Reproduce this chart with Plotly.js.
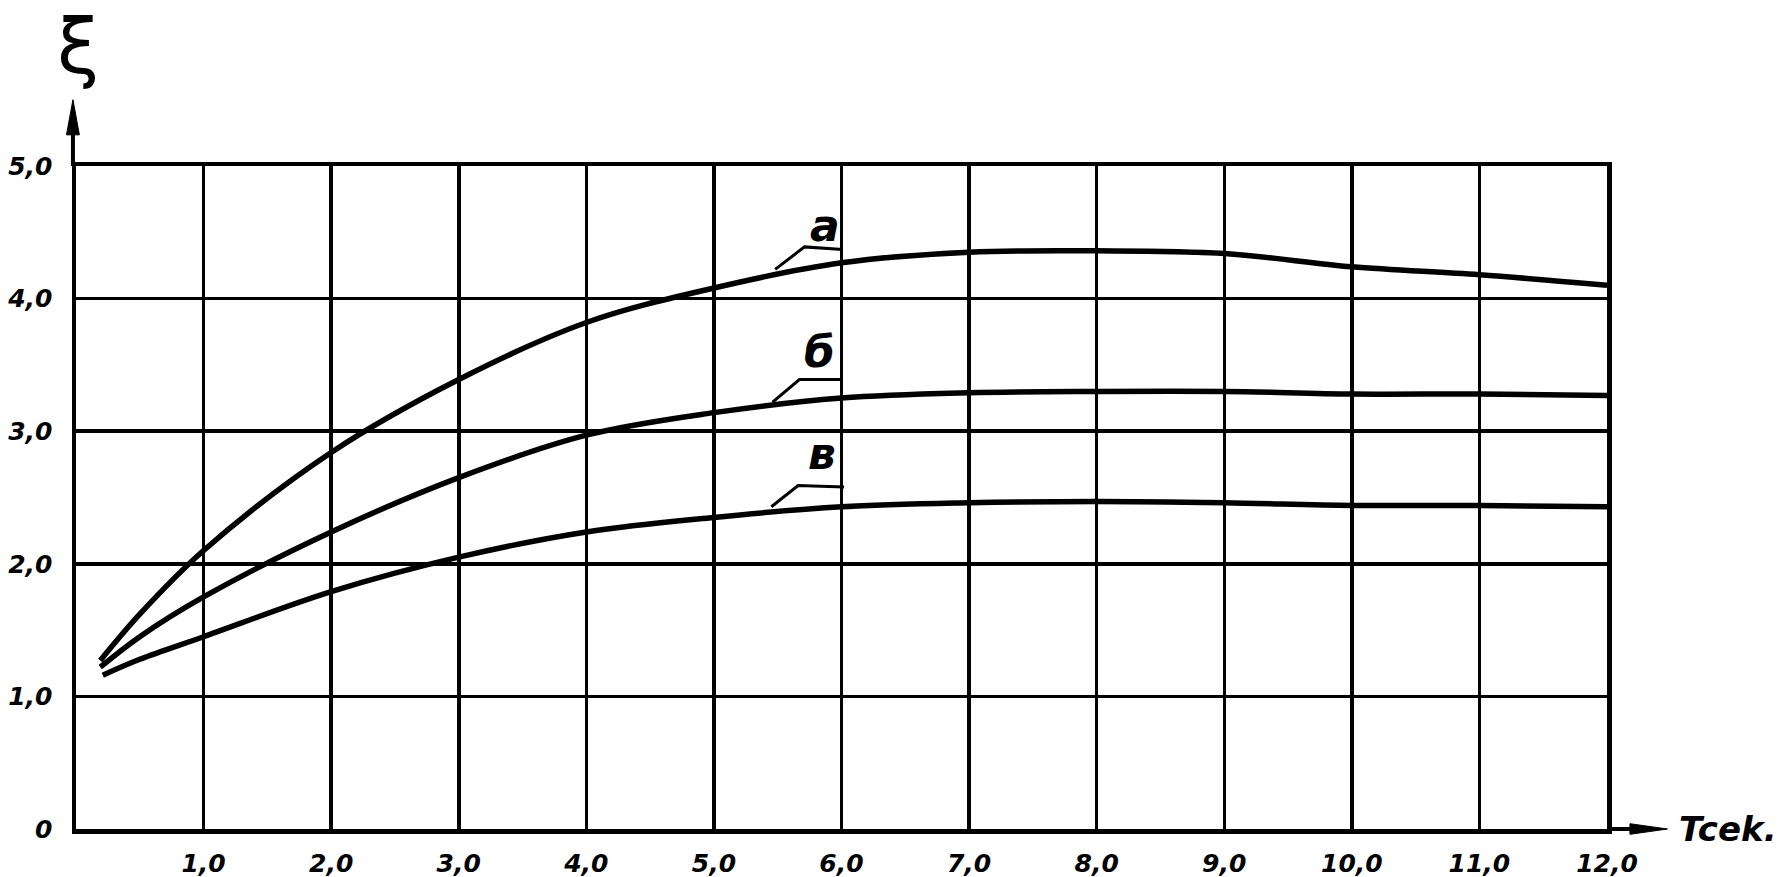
<!DOCTYPE html>
<html>
<head>
<meta charset="utf-8">
<script src="https://cdn.plot.ly/plotly-3.0.1.min.js"></script>
<style>
  html, body { margin: 0; padding: 0; background: #fff; }
  #chart { width: 1781px; height: 877px; }
</style>
</head>
<body>
<div id="chart"></div>
<script>
// ---- data ----
const seriesNames = ["а", "б", "в"];
const tA = [0.19, 0.5, 1, 2, 3, 4, 5, 6, 7, 8, 9, 10, 11, 12];
const xiA = [1.27, 1.62, 2.10, 2.84, 3.39, 3.82, 4.08, 4.27, 4.35, 4.36, 4.34, 4.24, 4.18, 4.10];
const tB = [0.19, 0.5, 1, 2, 3, 4, 5, 6, 7, 8, 9, 10, 11, 12];
const xiB = [1.22, 1.45, 1.75, 2.24, 2.65, 2.97, 3.14, 3.25, 3.29, 3.30, 3.30, 3.28, 3.28, 3.27];
const tV = [0.21, 0.5, 1, 2, 3, 4, 5, 6, 7, 8, 9, 10, 11, 12];
const xiV = [1.16, 1.28, 1.45, 1.79, 2.05, 2.24, 2.35, 2.43, 2.46, 2.47, 2.46, 2.44, 2.44, 2.43];

const xTickVals = [1, 2, 3, 4, 5, 6, 7, 8, 9, 10, 11, 12];
const xTickText = ["1,0", "2,0", "3,0", "4,0", "5,0", "6,0", "7,0", "8,0", "9,0", "10,0", "11,0", "12,0"];
const yTickVals = [0, 1, 2, 3, 4, 5];
const yTickText = ["0", "1,0", "2,0", "3,0", "4,0", "5,0"];

// label anchor positions (data coords) for the hand-drawn leaders
const labelX = [5.87, 5.83, 5.85];
const labelY = [4.55, 3.60, 2.83];
const leaderX = [[5.48, 5.71, 6.01], [5.46, 5.67, 6.00], [5.45, 5.66, 6.02]];
const leaderY = [[4.22, 4.39, 4.37], [3.22, 3.39, 3.39], [2.43, 2.59, 2.58]];

const fontFam = "DejaVu Sans, Liberation Sans, sans-serif";
const lineStyle = { color: "#000", width: 5.5, shape: "spline", smoothing: 1.0 };

const traces = [
  { x: tA, y: xiA, name: seriesNames[0], mode: "lines", line: lineStyle, hoverinfo: "skip" },
  { x: tB, y: xiB, name: seriesNames[1], mode: "lines", line: lineStyle, hoverinfo: "skip" },
  { x: tV, y: xiV, name: seriesNames[2], mode: "lines", line: lineStyle, hoverinfo: "skip" }
];

const shapes = [];
const annotations = [];
for (let i = 0; i < 3; i++) {
  const lx = leaderX[i], ly = leaderY[i];
  shapes.push({
    type: "path", xref: "x", yref: "y",
    path: `M ${lx[0]},${ly[0]} L ${lx[1]},${ly[1]} L ${lx[2]},${ly[2]}`,
    line: { color: "#000", width: 3 }
  });
  annotations.push({
    x: labelX[i], y: labelY[i], xref: "x", yref: "y", showarrow: false,
    text: seriesNames[i],
    font: { family: fontFam, size: 44, color: "#000", style: "italic", weight: "bold" }
  });
}

// axis arrows (y up, x right)
shapes.push({ type: "line", xref: "paper", yref: "paper", x0: -0.002, x1: -0.002, y0: 1, y1: 1.06, line: { color: "#000", width: 4 } });
shapes.push({ type: "path", xref: "paper", yref: "paper", path: "M -0.0062,1.047 L -0.002,1.1 L 0.0022,1.047 Z", fillcolor: "#000", line: { color: "#000", width: 1 } });
shapes.push({ type: "line", xref: "paper", yref: "paper", x0: 1, x1: 1.02, y0: 0, y1: 0, line: { color: "#000", width: 4 } });
shapes.push({ type: "path", xref: "paper", yref: "paper", path: "M 1.015,0.008 L 1.0395,0 L 1.015,-0.008 Z", fillcolor: "#000", line: { color: "#000", width: 1 } });

annotations.push({
  xref: "paper", yref: "paper", x: 0.001, y: 1.18, showarrow: false,
  text: "ξ", xanchor: "center", yanchor: "middle",
  font: { family: fontFam, size: 76, color: "#000" }
});
annotations.push({
  xref: "paper", yref: "paper", x: 1.046, y: 0.0, showarrow: false,
  text: "Tcek.", xanchor: "left", yanchor: "middle",
  font: { family: fontFam, size: 34, color: "#000", style: "italic", weight: "bold" }
});

const tickFont = { family: fontFam, size: 25, color: "#000", style: "italic", weight: "bold" };

const layout = {
  width: 1781, height: 877,
  margin: { l: 76, r: 174, t: 166, b: 48, pad: 0 },
  paper_bgcolor: "#fff", plot_bgcolor: "#fff",
  showlegend: false,
  xaxis: {
    range: [0, 12], tickvals: xTickVals, ticktext: xTickText,
    showgrid: true, gridcolor: "#000", gridwidth: 3.5,
    showline: true, linecolor: "#000", linewidth: 4.5, mirror: true,
    zeroline: false, ticks: "", tickfont: tickFont, ticklabelstandoff: 8,
    fixedrange: true
  },
  yaxis: {
    range: [0, 5], tickvals: yTickVals, ticktext: yTickText,
    showgrid: true, gridcolor: "#000", gridwidth: 3.5,
    showline: true, linecolor: "#000", linewidth: 4.5, mirror: true,
    zeroline: false, ticks: "", tickfont: tickFont, ticklabelstandoff: 14,
    fixedrange: true
  },
  shapes: shapes,
  annotations: annotations
};

Plotly.newPlot("chart", traces, layout, { displayModeBar: false, staticPlot: true });
</script>
</body>
</html>
